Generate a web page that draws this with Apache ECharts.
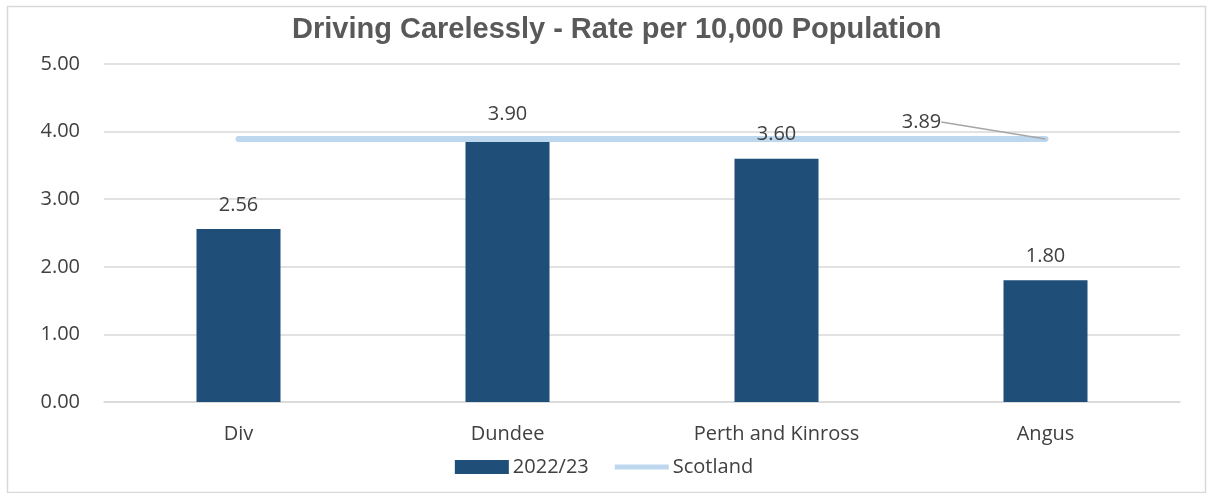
<!DOCTYPE html>
<html><head><meta charset="utf-8">
<script src="https://cdn.jsdelivr.net/npm/echarts@6/dist/echarts.min.js"></script>
<style>html,body{margin:0;padding:0;background:#fff}#c{width:1208px;height:493px}</style>
</head><body><div id="c"></div>
<script>
const categories = ['Div', 'Dundee', 'Perth and Kinross', 'Angus'];
const rate2223 = [2.56, 3.90, 3.60, 1.80];
const scotland = [3.89, 3.89, 3.89, 3.89];
const yTicks = { min: 0, max: 5, interval: 1 };

const last = scotland.length - 1;
const chart = echarts.init(document.getElementById('c'));
const txt = '#404040';
const font = '"Open Sans", "Noto Sans", sans-serif';
chart.setOption({
  animation: false,
  backgroundColor: '#fff',
  graphic: [{ type: 'rect', left: 5, top: 4, shape: { width: 1198, height: 486 }, style: { fill: 'none', stroke: '#d9d9d9', lineWidth: 1.5 }, silent: true }],
  title: { text: 'Driving Carelessly - Rate per 10,000 Population', left: 287, top: 10,
    textStyle: { fontFamily: '"Liberation Sans", Arial, sans-serif', fontWeight: 'bold', fontSize: 29, color: '#595959' } },
  grid: { left: 104, right: 28, top: 64, bottom: 91 },
  legend: { bottom: 11, left: 'center', itemGap: 26, itemWidth: 54, itemHeight: 14,
    textStyle: { fontFamily: font, fontSize: 20, color: txt, padding: [0, 0, 0, -1] },
    data: [{ name: '2022/23', icon: 'rect' }, { name: 'Scotland', icon: 'path://M0,0h108v10h-108z', itemStyle: { color: '#BDD7EE' } }] },
  xAxis: { type: 'category', data: categories,
    axisLine: { lineStyle: { color: '#d9d9d9', width: 1.5 } }, axisTick: { show: false },
    axisLabel: { fontFamily: font, fontSize: 20, color: txt, margin: 22 } },
  yAxis: { type: 'value', min: yTicks.min, max: yTicks.max, interval: yTicks.interval,
    axisLine: { show: false }, axisTick: { show: false },
    splitLine: { lineStyle: { color: '#d9d9d9', width: 1.5 } },
    axisLabel: { fontFamily: font, fontSize: 20, color: txt, margin: 24, formatter: v => v.toFixed(2) } },
  series: [
    { name: '2022/23', type: 'bar', data: rate2223, barWidth: 84, z: 2, itemStyle: { color: '#1F4E79' } },
    { name: 'Scotland', type: 'line', data: scotland, symbol: 'none', z: 3,
      lineStyle: { color: '#BDD7EE', width: 6, cap: 'round' }, itemStyle: { color: '#BDD7EE' } },
    { name: '2022/23 labels', type: 'bar', data: rate2223, barWidth: 84, barGap: '-100%', z: 4, silent: true,
      itemStyle: { color: 'rgba(0,0,0,0)' },
      label: { show: true, position: 'top', distance: 14, fontFamily: font, fontSize: 20, color: txt, formatter: p => p.value.toFixed(2) } },
    { name: 'ScotlandLabel', type: 'scatter', data: [[last, scotland[last]]], symbolSize: 0.01, z: 5,
      itemStyle: { color: '#BDD7EE', opacity: 1 },
      label: { show: true, position: 'top', distance: 4, fontFamily: font, fontSize: 20, color: txt, opacity: 1,
        formatter: p => p.value[1].toFixed(2) },
      labelLayout: { dx: -124, dy: -3 },
      labelLine: { show: true, lineStyle: { color: '#a6a6a6', width: 1.5, opacity: 1 } } }
  ]
});
</script></body></html>
